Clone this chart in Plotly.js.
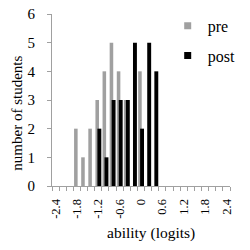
<!DOCTYPE html>
<html>
<head>
<meta charset="utf-8">
<script src="https://cdn.plot.ly/plotly-3.0.1.min.js"></script>
<style>html,body{margin:0;padding:0;background:#fff;}#chart{width:250px;height:250px;}</style>
</head>
<body>
<div id="chart"></div>
<script>
var bins = [-1.8, -1.6, -1.4, -1.2, -1.0, -0.8, -0.6, -0.4, -0.2, 0, 0.2, 0.4];
var pre  = [2, 1, 2, 3, 4, 5, 4, 3, 0, 4, 0, 0];
var post = [0, 0, 0, 2, 1, 3, 3, 3, 5, 2, 5, 4];
var tickVals = [-2.4, -1.8, -1.2, -0.6, 0, 0.6, 1.2, 1.8, 2.4];
var tickText = ["-2.4", "-1.8", "-1.2", "-0.6", "0", "0.6", "1.2", "1.8", "2.4"];
var seriesNames = ["pre", "post"];
var seriesColors = ["#a0a0a0", "#000000"];

var font = "Liberation Serif, Times New Roman, DejaVu Serif, serif";
var traces = [
  {type: "bar", x: bins, y: pre, width: 0.1, offset: -0.08,
   marker: {color: seriesColors[0]}, showlegend: false, hoverinfo: "skip"},
  {type: "bar", x: bins, y: post, width: 0.11, offset: -0.025,
   marker: {color: seriesColors[1]}, showlegend: false, hoverinfo: "skip"},
  {type: "scatter", mode: "markers", x: [null], y: [null], name: seriesNames[0],
   legendgroup: "a", marker: {symbol: "square", size: 7, color: seriesColors[0]}},
  {type: "scatter", mode: "markers", x: [null], y: [null], name: seriesNames[1],
   legendgroup: "b", marker: {symbol: "square", size: 7, color: seriesColors[1]}}
];

var layout = {
  width: 250, height: 250,
  margin: {l: 52, r: 9, t: 14, b: 64},
  paper_bgcolor: "#fff", plot_bgcolor: "#fff",
  font: {family: font, size: 13, color: "#000"},
  barmode: "overlay",
  showlegend: true,
  legend: {x: 0.65, y: 1.03, xanchor: "left", yanchor: "top",
           font: {family: font, size: 16, color: "#000"},
           tracegroupgap: 6, bgcolor: "rgba(0,0,0,0)", itemwidth: 30},
  xaxis: {
    range: [-2.5, 2.5], showgrid: false, zeroline: false,
    showline: true, linecolor: "#a0a0a0", linewidth: 1,
    tickmode: "array", tickvals: tickVals, ticktext: tickText,
    ticks: "", tickangle: -90, ticklabelstandoff: 7,
    tickfont: {family: font, size: 12.5, color: "#000"},
    minor: {tick0: -2.5, dtick: 0.2, ticks: "outside", ticklen: 4, tickcolor: "#a0a0a0", showgrid: false}
  },
  yaxis: {
    range: [0, 6], dtick: 1, showgrid: false, zeroline: false,
    showline: true, linecolor: "#a0a0a0", linewidth: 1,
    ticks: "outside", ticklen: 4, tickcolor: "#a0a0a0",
    ticklabelstandoff: 9,
    tickfont: {family: font, size: 15, color: "#000"}
  },
  annotations: [
    {text: "number of students", xref: "paper", yref: "paper",
     x: (15 - 52) / 189, y: (186 - 113.5) / 172, xanchor: "center", yanchor: "middle",
     textangle: -90, showarrow: false, font: {family: font, size: 15, color: "#000"}},
    {text: "ability (logits)", xref: "paper", yref: "paper",
     x: (157 - 52) / 189, y: (186 - 233) / 172, xanchor: "center", yanchor: "middle",
     showarrow: false, font: {family: font, size: 15.5, color: "#000"}}
  ]
};

Plotly.newPlot("chart", traces, layout, {staticPlot: true, displayModeBar: false});
</script>
</body>
</html>
